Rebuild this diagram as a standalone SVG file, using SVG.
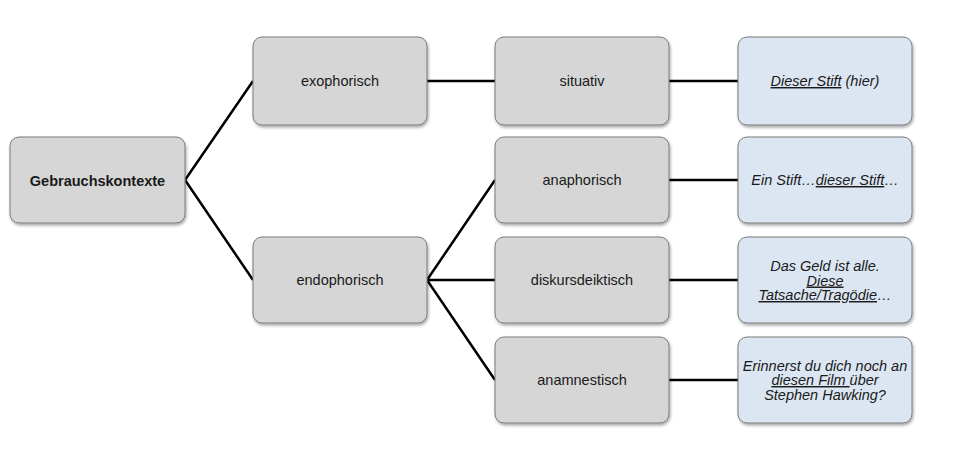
<svg xmlns="http://www.w3.org/2000/svg" width="960" height="454" viewBox="0 0 960 454">
<defs>
<filter id="sh" x="-10%" y="-10%" width="125%" height="130%">
<feDropShadow dx="1" dy="2" stdDeviation="1.5" flood-color="#000" flood-opacity="0.35"/>
</filter>
<style>
.g{fill:#d6d6d6;stroke:#7a7a7a;stroke-width:1;filter:url(#sh)}
.b{fill:#dce6f2;stroke:#7a7a7a;stroke-width:1;filter:url(#sh)}
text{font-family:"Liberation Sans",Arial,sans-serif;font-size:14.5px;fill:#1a1a1a;text-anchor:middle}
.i{font-style:italic}
.u{text-decoration:underline}
.c{stroke:#000;stroke-width:2.5;fill:none}
</style>
</defs>
<rect width="960" height="454" fill="#fff"/>
<g id="connectors">
<polyline class="c" points="253,81 185,180 253,280"/>
<line class="c" x1="427" y1="81" x2="495" y2="81"/>
<line class="c" x1="669" y1="81" x2="738" y2="81"/>
<polyline class="c" points="495,180 427,280 495,380"/>
<line class="c" x1="427" y1="280" x2="495" y2="280"/>
<line class="c" x1="669" y1="180" x2="738" y2="180"/>
<line class="c" x1="669" y1="280" x2="738" y2="280"/>
<line class="c" x1="669" y1="380" x2="738" y2="380"/>
</g>
<g id="root"><rect class="g" x="10" y="137" width="175" height="86" rx="9"/><text x="97.5" y="185.5" font-weight="bold" font-size="15">Gebrauchskontexte</text></g>
<g id="exophorisch"><rect class="g" x="253" y="37" width="174" height="88" rx="9"/><text x="340" y="86">exophorisch</text></g>
<g id="endophorisch"><rect class="g" x="253" y="237" width="174" height="86" rx="9"/><text x="340" y="285">endophorisch</text></g>
<g id="situativ"><rect class="g" x="495" y="37" width="174" height="88" rx="9"/><text x="582" y="86">situativ</text></g>
<g id="anaphorisch"><rect class="g" x="495" y="137" width="174" height="86" rx="9"/><text x="582" y="185">anaphorisch</text></g>
<g id="diskursdeiktisch"><rect class="g" x="495" y="237" width="174" height="86" rx="9"/><text x="582" y="285">diskursdeiktisch</text></g>
<g id="anamnestisch"><rect class="g" x="495" y="337" width="174" height="86" rx="9"/><text x="582" y="385">anamnestisch</text></g>
<g id="ex1"><rect class="b" x="738" y="37" width="174" height="88" rx="9"/><text class="i" x="825" y="86"><tspan class="u">Dieser Stift</tspan> (hier)</text></g>
<g id="ex2"><rect class="b" x="738" y="137" width="174" height="86" rx="9"/><text class="i" x="825" y="185">Ein Stift…<tspan class="u">dieser Stift</tspan>…</text></g>
<g id="ex3"><rect class="b" x="738" y="237" width="174" height="86" rx="9"/>
<text class="i" x="825" y="271">Das Geld ist alle.</text>
<text class="i" x="825" y="285.5"><tspan class="u">Diese</tspan></text>
<text class="i" x="825" y="300"><tspan class="u">Tatsache/Tragödie</tspan>…</text></g>
<g id="ex4"><rect class="b" x="738" y="337" width="174" height="86" rx="9"/>
<text class="i" x="825" y="370.5">Erinnerst du dich noch an</text>
<text class="i" x="825" y="385"><tspan class="u">diesen Film </tspan>über</text>
<text class="i" x="825" y="399.5">Stephen Hawking?</text></g>
</svg>
